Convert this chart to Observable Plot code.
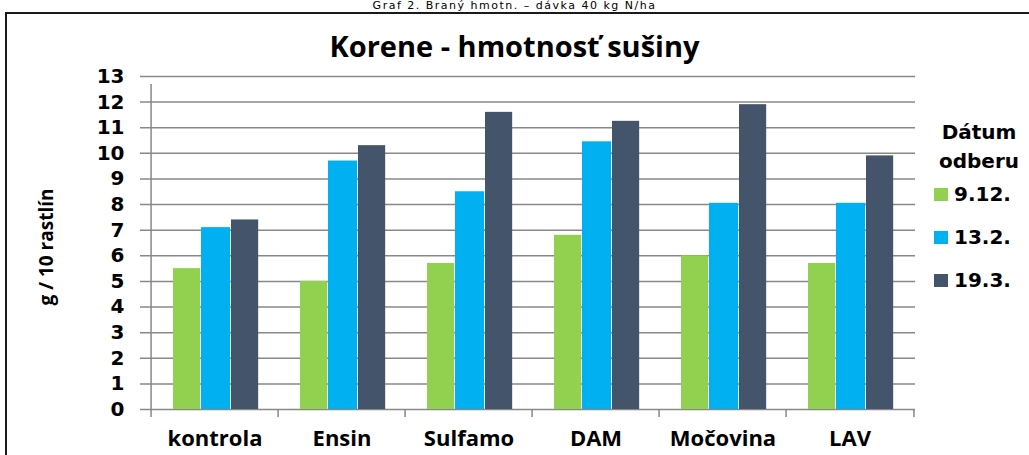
<!DOCTYPE html>
<html><head><meta charset="utf-8">
<script src="https://cdn.jsdelivr.net/npm/d3@7"></script>
<script src="https://cdn.jsdelivr.net/npm/@observablehq/plot@0.6"></script>
<style>
body{margin:0;background:#fff;}
#wrap{position:relative;width:1029px;height:455px;overflow:hidden;background:#fff;}
#head{position:absolute;left:0;width:1029px;text-align:center;top:0px;font:11px/11px "DejaVu Sans";color:#000;white-space:nowrap;letter-spacing:1.5px;}
#frame{position:absolute;left:5px;top:12px;width:1060px;height:480px;border-left:2px solid #1a1a1a;border-top:2px solid #1a1a1a;}
#title{position:absolute;left:0;width:1029px;text-align:center;top:28px;font:700 29px/36px "Open Sans";color:#000;white-space:nowrap;}
#chart{position:absolute;left:0;top:0;}
.lg{position:absolute;font:700 20px/24px "DejaVu Sans";color:#000;white-space:nowrap;}
.sw{position:absolute;width:14px;height:13px;}
</style></head>
<body>
<div id="wrap">
  <div id="head">Graf 2. Braný hmotn. – dávka 40 kg N/ha</div>
  <div id="frame"></div>
  <div id="chart"></div>
  <div id="title">Korene - hmotnosť sušiny</div>
  <div id="legend"></div>
</div>
<script>
const categories = ["kontrola", "Ensin", "Sulfamo", "DAM", "Močovina", "LAV"];
const seriesNames = ["9.12.", "13.2.", "19.3."];
const values0912 = [5.5, 5.0, 5.7, 6.8, 6.0, 5.7];
const values1302 = [7.1, 9.7, 8.5, 10.45, 8.05, 8.05];
const values1903 = [7.4, 10.3, 11.6, 11.25, 11.9, 9.9];
const yTicks = [0, 1, 2, 3, 4, 5, 6, 7, 8, 9, 10, 11, 12, 13];
const yLabel = "g / 10 rastlín";
const legendTitle = ["Dátum", "odberu"];
const colors = ["#92D050", "#00B0F0", "#44546A"];

const seriesValues = [values0912, values1302, values1903];
const rows = categories.map((c, i) => ({c, v: seriesValues.map(s => s[i])}));

const W = 1029, H = 455, mL = 148, mR = 114, mT = 76, mB = 46;
const step = (W - mL - mR) / categories.length;
const insets = [[22, step - 50], [50, step - 80], [80, step - 108]];
const grid = "#888888";

const chart = Plot.plot({
  width: W, height: H,
  marginLeft: mL, marginRight: mR, marginTop: mT, marginBottom: mB,
  x: {domain: categories, padding: 0, axis: null},
  y: {domain: [0, 13], axis: null},
  style: {background: "transparent", overflow: "visible"},
  marks: [
    Plot.ruleY(yTicks, {stroke: grid, strokeWidth: 1.5, insetLeft: -8}),
    ...seriesNames.map((s, k) => Plot.barY(rows, {
      x: "c", y: d => d.v[k], fill: colors[k],
      insetLeft: insets[k][0], insetRight: insets[k][1]
    })),
    Plot.ruleX([categories[0]], {y1: 0, y2: 13, dx: -step / 2, stroke: grid, strokeWidth: 1.5, insetBottom: -8}),
    Plot.ruleX(categories, {y1: 0, y2: 0, dx: -step / 2, stroke: grid, strokeWidth: 1.5, insetBottom: -8}),
    Plot.ruleX([categories[categories.length - 1]], {y1: 0, y2: 0, dx: step / 2, stroke: grid, strokeWidth: 1.5, insetBottom: -8}),
    Plot.axisY(yTicks, {tickSize: 0, tickPadding: 24, fontSize: 20, fontFamily: "DejaVu Sans", fontWeight: "bold", fill: "#000", label: null}),
    Plot.axisX({tickSize: 0, tickPadding: 21, fontSize: 22, fontFamily: "Open Sans", fontWeight: "bold", fill: "#000", label: null}),
    Plot.text([yLabel], {text: d => d, frameAnchor: "left", textAnchor: "middle", rotate: -90, dx: -102, dy: 4, fontSize: 19, fontFamily: "Open Sans", fontWeight: "bold", fill: "#000"})
  ]
});
document.getElementById("chart").appendChild(chart);

const lg = document.getElementById("legend");
const titleY = [132, 161];
legendTitle.forEach((t, i) => {
  const d = document.createElement("div");
  d.className = "lg";
  d.textContent = t;
  d.style.left = "935px"; d.style.width = "88px"; d.style.textAlign = "center";
  d.style.top = (titleY[i] - 12) + "px";
  lg.appendChild(d);
});
const rowY = [194, 237, 280];
seriesNames.forEach((s, k) => {
  const sw = document.createElement("div");
  sw.className = "sw"; sw.style.background = colors[k];
  sw.style.left = "934px"; sw.style.top = (rowY[k] - 6) + "px";
  lg.appendChild(sw);
  const t = document.createElement("div");
  t.className = "lg"; t.textContent = s;
  t.style.left = "954px"; t.style.top = (rowY[k] - 12) + "px";
  lg.appendChild(t);
});
</script>
</body></html>
